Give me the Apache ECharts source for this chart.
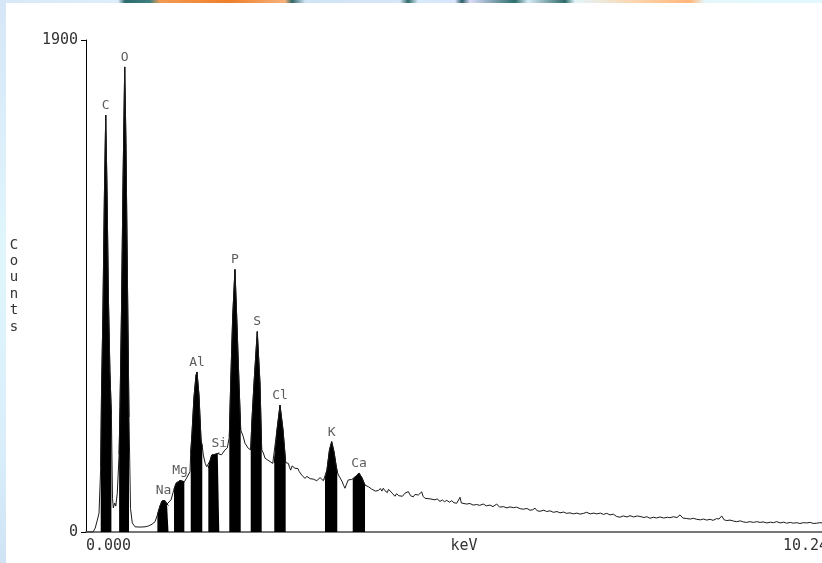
<!DOCTYPE html>
<html>
<head>
<meta charset="utf-8">
<script src="https://cdn.jsdelivr.net/npm/echarts@6.0.0/dist/echarts.min.js"></script>
<style>
	html, body { margin: 0; padding: 0; background: #fff; overflow: hidden; }
	#stripTop { position: absolute; left: 0; top: 0; width: 822px; height: 3px;
		background: linear-gradient(to right, #d8e8f8 0px, #dfeefa 118px, #2d6b6e 125px, #3f7f80 150px, #f39a52 160px, #f07f2a 230px, #f6b27a 285px, #2f6667 292px, #cfe4f4 305px, #d7e6f8 400px, #2f6b6a 408px, #d6eaf9 418px, #d8e4fb 455px, #2a5f66 462px, #dcdcfb 470px, #2c6d6c 515px, #d8ecf8 528px, #2f6a6a 565px, #e2f6fb 575px, #ffd2a8 640px, #ffb67a 690px, #e4f8fc 705px, #e2f8fc 822px); }
	#stripLeft { position: absolute; left: 0; top: 0; width: 6px; height: 563px;
		background: linear-gradient(to bottom, #d6e6f7 0%, #e0f6fc 45%, #d9eefa 80%, #cfe3f5 100%); }
	#chart { position: absolute; left: 0; top: 0; width: 822px; height: 563px; }
</style>
</head>
<body>
<div id="stripTop"></div>
<div id="stripLeft"></div>
<div id="chart"></div>
<script>
// EDS spectrum, [keV, counts]
var spectrum = [
	[0, 0], [0.095, 0], [0.125, 15], [0.154, 46], [0.177, 73], [0.2, 251],
	[0.21, 520], [0.23, 850], [0.25, 1300], [0.268, 1610], [0.285, 1330], [0.305, 900],
	[0.325, 620], [0.345, 450], [0.36, 130], [0.371, 93], [0.39, 112], [0.405, 100],
	[0.425, 150], [0.45, 300], [0.462, 480], [0.482, 850], [0.503, 1350], [0.526, 1796],
	[0.543, 1500], [0.564, 950], [0.584, 444], [0.605, 90], [0.629, 35], [0.666, 20],
	[0.734, 19], [0.802, 20], [0.846, 23], [0.897, 30], [0.938, 40], [0.97, 66],
	[1.005, 100], [1.033, 120], [1.053, 124], [1.073, 121], [1.101, 108], [1.121, 102],
	[1.155, 124], [1.196, 165], [1.223, 188], [1.25, 195], [1.277, 199], [1.304, 196],
	[1.336, 194], [1.368, 209], [1.413, 233], [1.423, 305], [1.44, 380], [1.467, 520],
	[1.495, 606], [1.508, 618], [1.535, 529], [1.563, 355], [1.58, 330], [1.594, 297],
	[1.62, 265], [1.64, 252], [1.662, 247], [1.685, 275], [1.708, 297], [1.753, 300],
	[1.79, 303], [1.811, 306], [1.84, 298], [1.857, 291], [1.889, 317], [1.92, 325],
	[1.947, 367], [1.966, 575], [1.993, 830], [2.024, 1014], [2.048, 830], [2.079, 575],
	[2.102, 394], [2.137, 368], [2.16, 343], [2.205, 323], [2.238, 317], [2.255, 433],
	[2.283, 575], [2.327, 774], [2.364, 575], [2.387, 317], [2.41, 305], [2.432, 285],
	[2.455, 291], [2.5, 272], [2.537, 265], [2.558, 266], [2.595, 394], [2.636, 490],
	[2.677, 394], [2.713, 268], [2.73, 262], [2.749, 265], [2.765, 250], [2.781, 239],
	[2.8, 255], [2.817, 259], [2.84, 246], [2.863, 239], [2.88, 245], [2.898, 233],
	[2.915, 238], [2.931, 220], [2.95, 226], [2.976, 207], [3.0, 215], [3.02, 220],
	[3.045, 206], [3.067, 213], [3.09, 204], [3.111, 207], [3.135, 198], [3.156, 201],
	[3.18, 210], [3.202, 207], [3.225, 198], [3.247, 201], [3.274, 240], [3.308, 317],
	[3.338, 349], [3.37, 309], [3.397, 259], [3.414, 232], [3.43, 220], [3.451, 213],
	[3.48, 195], [3.5, 180], [3.519, 169], [3.54, 185], [3.564, 201], [3.59, 196],
	[3.61, 203], [3.624, 201], [3.668, 216], [3.709, 228], [3.75, 209], [3.791, 181],
	[3.81, 178], [3.836, 175], [3.86, 180], [3.88, 166], [3.904, 169], [3.93, 158],
	[3.95, 165], [3.971, 160], [4.0, 168], [4.02, 158], [4.039, 169], [4.06, 160],
	[4.094, 152], [4.11, 165], [4.13, 160], [4.16, 150], [4.198, 138], [4.22, 148],
	[4.25, 140], [4.266, 145], [4.3, 138], [4.334, 150], [4.36, 145], [4.379, 156],
	[4.41, 140], [4.447, 136], [4.47, 145], [4.49, 138], [4.515, 143], [4.54, 138],
	[4.561, 155], [4.58, 138], [4.606, 130], [4.63, 136], [4.674, 128], [4.7, 134],
	[4.742, 124], [4.77, 128], [4.81, 118], [4.84, 124], [4.87, 117], [4.901, 122],
	[4.94, 115], [4.969, 121], [5.0, 113], [5.037, 111], [5.06, 118], [5.082, 134],
	[5.1, 112], [5.126, 114], [5.17, 108], [5.217, 110], [5.26, 104], [5.308, 106],
	[5.35, 103], [5.398, 108], [5.44, 101], [5.489, 104], [5.53, 98], [5.58, 108],
	[5.62, 96], [5.67, 98], [5.72, 93], [5.76, 97], [5.806, 94], [5.85, 96],
	[5.9, 90], [5.942, 88], [5.99, 91], [6.033, 84], [6.07, 86], [6.101, 92],
	[6.13, 82], [6.168, 80], [6.22, 84], [6.26, 79], [6.304, 82], [6.35, 76],
	[6.4, 79], [6.44, 74], [6.49, 77], [6.53, 72], [6.576, 74], [6.62, 70],
	[6.67, 73], [6.712, 69], [6.76, 72], [6.803, 76], [6.85, 70], [6.9, 73],
	[6.939, 70], [6.99, 73], [7.03, 68], [7.075, 72], [7.12, 66], [7.164, 69],
	[7.21, 60], [7.255, 57], [7.3, 62], [7.35, 58], [7.391, 63], [7.44, 58],
	[7.49, 62], [7.527, 60], [7.58, 56], [7.62, 59], [7.663, 53], [7.71, 57],
	[7.75, 54], [7.799, 58], [7.85, 54], [7.9, 57], [7.935, 55], [7.98, 59],
	[8.03, 56], [8.071, 66], [8.11, 54], [8.162, 52], [8.21, 50], [8.25, 53],
	[8.298, 49], [8.35, 47], [8.39, 50], [8.433, 46], [8.48, 49], [8.52, 45],
	[8.569, 52], [8.6, 50], [8.637, 62], [8.67, 47], [8.705, 44], [8.75, 46],
	[8.8, 42], [8.841, 40], [8.89, 43], [8.93, 39], [8.977, 37], [9.02, 40],
	[9.07, 37], [9.113, 40], [9.16, 37], [9.2, 39], [9.249, 35], [9.3, 38],
	[9.34, 36], [9.385, 40], [9.43, 35], [9.48, 38], [9.52, 34], [9.57, 37],
	[9.61, 34], [9.656, 36], [9.7, 33], [9.75, 36], [9.792, 35], [9.84, 37],
	[9.88, 33], [9.928, 34], [9.97, 36], [10.0, 35]
];

// element lines and their shaded energy windows (keV)
var elements = ['C', 'O', 'Na', 'Mg', 'Al', 'Si', 'P', 'S', 'Cl', 'K', 'Ca'];
var windows = [
	[0.2, 0.345], [0.45, 0.584], [0.97, 1.121], [1.196, 1.336], [1.423, 1.58], [1.662, 1.811],
	[1.947, 2.102], [2.238, 2.387], [2.558, 2.713], [3.247, 3.414], [3.624, 3.791]
];

var xTickValues = [0, 9.47];
var xTickLabels = ['0.000', '10.240'];
var yMax = 1900;

var mono = 'DejaVu Sans Mono';
var textColor = '#333';

function inWindow(w) {
	return spectrum.filter(function (p) {
		return p[0] >= w[0] - 1e-9 && p[0] <= w[1] + 1e-9;
	});
}

var series = [];
var peaks = [];
windows.forEach(function (w, i) {
	var pts = inWindow(w);
	var top = pts[0];
	pts.forEach(function (p) { if (p[1] > top[1]) top = p; });
	peaks.push({ name: elements[i], value: top });
	series.push({
		type: 'line',
		data: pts,
		showSymbol: false,
		silent: true,
		z: 2,
		lineStyle: { color: '#000', width: 1 },
		areaStyle: { color: '#000', opacity: 1 }
	});
});

series.push({
	type: 'line',
	data: spectrum,
	showSymbol: false,
	silent: true,
	z: 3,
	lineStyle: { color: '#1a1a1a', width: 1 }
});

series.push({
	type: 'scatter',
	data: peaks,
	symbolSize: 0,
	silent: true,
	z: 4,
	label: {
		show: true,
		formatter: '{b}',
		position: 'top',
		distance: 3,
		fontFamily: mono,
		fontSize: 13,
		color: textColor
	}
});

var chart = echarts.init(document.getElementById('chart'), null, { renderer: 'canvas' });
chart.setOption({
	animation: false,
	backgroundColor: 'transparent',
	grid: {
		left: 86,
		right: 0,
		top: 40,
		bottom: 31,
		containLabel: false,
		outerBoundsMode: 'none'
	},
	xAxis: {
		type: 'value',
		min: 0,
		max: 10,
		name: 'keV',
		nameLocation: 'middle',
		nameGap: 7,
		nameMoveOverlap: false,
		nameTextStyle: {
			fontFamily: mono,
			fontSize: 15,
			color: textColor,
			verticalAlign: 'top',
			padding: [0, 0, 0, 20]
		},
		axisLine: { lineStyle: { color: '#777', width: 2 } },
		axisTick: { show: false },
		splitLine: { show: false },
		axisLabel: {
			customValues: xTickValues,
			formatter: function (v) {
				var i = xTickValues.indexOf(v);
				return i >= 0 ? xTickLabels[i] : '';
			},
			align: 'left',
			margin: 7,
			fontFamily: mono,
			fontSize: 15,
			color: textColor
		}
	},
	yAxis: {
		type: 'value',
		min: 0,
		max: yMax,
		interval: yMax,
		name: 'C\no\nu\nn\nt\ns',
		nameLocation: 'middle',
		nameRotate: 0,
		nameGap: 72,
		nameMoveOverlap: false,
		nameTextStyle: {
			fontFamily: mono,
			fontSize: 14,
			lineHeight: 16.4,
			color: textColor,
			align: 'center',
			verticalAlign: 'middle'
		},
		axisLine: { show: true, lineStyle: { color: '#000', width: 1 } },
		axisTick: { show: true, length: 5, lineStyle: { color: '#000', width: 1 } },
		splitLine: { show: false },
		axisLabel: {
			margin: 8,
			formatter: function (v) { return String(v); },
			fontFamily: mono,
			fontSize: 15,
			color: textColor
		}
	},
	series: series
});
</script>
</body>
</html>
